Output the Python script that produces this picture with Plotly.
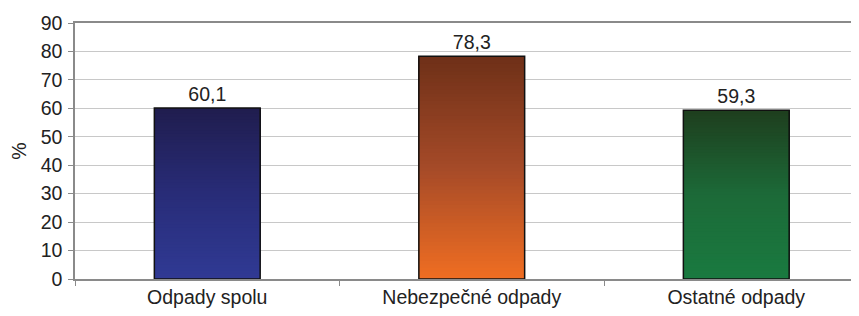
import plotly.graph_objects as go

categories = ["Odpady spolu", "Nebezpečné odpady", "Ostatné odpady"]
values = [60.1, 78.3, 59.3]
y_ticks = [0, 10, 20, 30, 40, 50, 60, 70, 80, 90]
y_title = "%"

# gradient colour stops per bar: (top, middle, bottom)
grad_top = [(32, 29, 78), (110, 48, 24), (30, 62, 30)]
grad_mid = [(40, 44, 120), (165, 74, 40), (28, 106, 56)]
grad_bot = [(48, 58, 148), (240, 110, 34), (26, 122, 64)]

N = 60
FS = 19.5


def lerp(a, b, t):
    return tuple(int(round(a[k] + (b[k] - a[k]) * t)) for k in range(3))


def color_at(i, f):
    # f = 0 at bottom, 1 at top
    if f < 0.5:
        c = lerp(grad_bot[i], grad_mid[i], f / 0.5)
    else:
        c = lerp(grad_mid[i], grad_top[i], (f - 0.5) / 0.5)
    return "rgb(%d,%d,%d)" % c


fig = go.Figure()
BW = 0.40
# each layer covers from its start up to the bar top; later layers overwrite
for s in range(N):
    f = (s + 0.5) / N
    fig.add_trace(go.Bar(
        x=categories,
        y=[v * (N - s) / N for v in values],
        base=[v * s / N for v in values],
        marker=dict(color=[color_at(i, f) for i in range(3)], line=dict(width=0)),
        width=BW,
        showlegend=False,
        hoverinfo="skip",
    ))

fig.add_trace(go.Bar(
    x=categories,
    y=values,
    base=0,
    width=BW,
    marker=dict(color="rgba(0,0,0,0)", line=dict(color="#111111", width=1.5)),
    texttemplate="%{y:.1f}",
    textposition="outside",
    textfont=dict(family="Liberation Sans, Arial", size=FS, color="#222222"),
    cliponaxis=False,
    showlegend=False,
))

# the page body adds an 8px offset, so the figure is 8px smaller each way
fig.update_layout(
    width=851, height=308,
    margin=dict(l=67, r=0, t=15, b=37),
    barmode="overlay",
    separators=", ",
    plot_bgcolor="white",
    paper_bgcolor="white",
    font=dict(family="Liberation Sans, Arial", size=FS, color="#222222"),
    xaxis=dict(
        type="category",
        range=[-0.5, 2.464],
        automargin=False,
        showgrid=False,
        showline=True, linecolor="#8a8a8a", linewidth=1.5,
        mirror=True,
        ticks="outside", tickson="boundaries", ticklen=5, tickcolor="#8a8a8a",
        tickfont=dict(size=FS),
    ),
    yaxis=dict(
        range=[0, 90],
        automargin=False,
        tickvals=y_ticks,
        showgrid=True, gridcolor="#c8c8c8", gridwidth=1,
        showline=True, linecolor="#8a8a8a", linewidth=1.5,
        ticks="outside", ticklen=5, tickcolor="#8a8a8a",
        ticklabelstandoff=2,
        zeroline=False,
        tickfont=dict(size=FS),
        title=dict(text=y_title, font=dict(size=FS), standoff=12),
    ),
)

fig.write_html("out.html")
